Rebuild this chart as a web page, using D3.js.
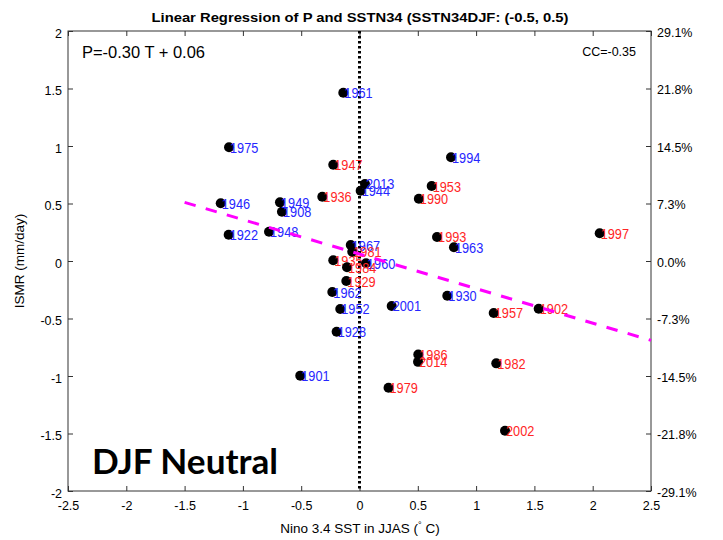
<!DOCTYPE html>
<html><head><meta charset="utf-8">
<script src="https://cdn.jsdelivr.net/npm/d3@7"></script>
<style>body{margin:0;background:#fff}svg{display:block}</style>
</head><body><svg id="c" width="723" height="540"></svg>
<script>
// ---- data ----
const years = [1901,1902,1908,1922,1928,1929,1930,1935,1936,1944,1946,1947,1948,1949,1952,1953,1957,1960,1961,1962,1963,1967,1975,1979,1981,1982,1984,1986,1990,1993,1994,1997,2001,2002,2013,2014];
const sst   = [-0.508,1.537,-0.665,-1.122,-0.196,-0.113,0.753,-0.225,-0.319,0.010,-1.190,-0.225,-0.776,-0.682,-0.165,0.619,1.151,0.056,-0.139,-0.233,0.810,-0.075,-1.119,0.249,-0.062,1.173,-0.107,0.504,0.509,0.665,0.785,2.060,0.276,1.248,0.047,0.502];
const ismr  = [-0.997,-0.415,0.429,0.229,-0.615,-0.174,-0.302,0.006,0.559,0.611,0.502,0.837,0.255,0.510,-0.417,0.652,-0.452,-0.020,1.463,-0.270,0.119,0.139,0.989,-1.102,0.081,-0.890,-0.055,-0.813,0.541,0.209,0.902,0.241,-0.391,-1.476,0.670,-0.877];
const group = ["B","R","B","B","B","R","B","R","R","B","B","R","B","B","B","R","R","B","B","B","B","B","B","R","R","R","R","R","R","R","B","R","B","R","B","R"];
const xTicks = [-2.5,-2,-1.5,-1,-0.5,0,0.5,1,1.5,2,2.5];
const yTicks = [-2,-1.5,-1,-0.5,0,0.5,1,1.5,2];
const rightTickLabels = ["-29.1%","-21.8%","-14.5%","-7.3%","0.0%","7.3%","14.5%","21.8%","29.1%"];
const slope = -0.30, intercept = 0.06, fitRange = [-1.5, 2.5];
const titleText = "Linear Regression of P and SSTN34 (SSTN34DJF: (-0.5, 0.5)";
const eqText = "P=-0.30 T + 0.06";
const ccText = "CC=-0.35";
const stampText = "DJF Neutral";

// ---- layout ----
const L = 68, R = 651, T = 31, B = 491;
const svg = d3.select("#c");
const x = d3.scaleLinear().domain([-2.5, 2.5]).range([L, R]);
const y = d3.scaleLinear().domain([-2, 2]).range([B, T]);
const font = "'Liberation Sans', Arial, sans-serif";
const axisCol = "#333";
const colors = {R: "#ff2626", B: "#2626ff"};

function styleAxis(g) {
  g.select(".domain").remove();
  g.selectAll("line").attr("stroke", axisCol).attr("stroke-width", 1);
  g.selectAll("text").attr("font-family", font).attr("font-size", 12.5).attr("fill", "#000");
}

// frame
svg.append("rect").attr("x", L).attr("y", T).attr("width", R - L).attr("height", B - T)
  .attr("fill", "none").attr("stroke", axisCol).attr("stroke-width", 1);

// axes
svg.append("g").attr("transform", `translate(0,${B})`)
  .call(d3.axisBottom(x).tickValues(xTicks).tickSize(-5).tickPadding(10).tickFormat(d => String(d)))
  .call(styleAxis);
svg.append("g").attr("transform", `translate(0,${T})`)
  .call(d3.axisTop(x).tickValues(xTicks).tickSize(-5).tickFormat(""))
  .call(styleAxis);
svg.append("g").attr("transform", `translate(${L},0)`)
  .call(d3.axisLeft(y).tickValues(yTicks).tickSize(-5).tickPadding(6).tickFormat(d => String(d)))
  .call(styleAxis)
  .selectAll("text").attr("dy", "0.5em");
svg.append("g").attr("transform", `translate(${R},0)`)
  .call(d3.axisRight(y).tickValues(yTicks).tickSize(-5).tickPadding(6).tickFormat((d, i) => rightTickLabels[i]))
  .call(styleAxis)
  .selectAll("text").attr("dy", "0.4em");

// zero dotted line
svg.append("line").attr("x1", x(0)).attr("x2", x(0)).attr("y1", T).attr("y2", B)
  .attr("stroke", "#000").attr("stroke-width", 3).attr("stroke-dasharray", "2.5,2.5");

// points + labels (year order)
const pts = years.map((yr, i) => ({yr, sx: sst[i], p: ismr[i], g: group[i]}));
pts.forEach(d => {
  svg.append("circle").attr("cx", x(d.sx)).attr("cy", y(d.p)).attr("r", 5).attr("fill", "#000");
  svg.append("text")
    .attr("transform", `translate(${x(d.sx) + 1},${y(d.p) + 5.5}) scale(0.88,1)`)
    .attr("font-family", font).attr("font-size", 14.5).attr("fill", colors[d.g])
    .text(d.yr);
});

// regression line
svg.append("line")
  .attr("x1", x(fitRange[0])).attr("y1", y(slope * fitRange[0] + intercept))
  .attr("x2", x(fitRange[1])).attr("y2", y(slope * fitRange[1] + intercept))
  .attr("stroke", "#ff00ff").attr("stroke-width", 3).attr("stroke-dasharray", "11.5,10.5");

// texts
svg.append("text").attr("x", 360).attr("y", 22).attr("text-anchor", "middle")
  .attr("font-family", font).attr("font-weight", "bold").attr("font-size", 13)
  .attr("textLength", 417).attr("lengthAdjust", "spacingAndGlyphs").text(titleText);
svg.append("text").attr("x", 82).attr("y", 58)
  .attr("font-family", font).attr("font-size", 16.5)
  .attr("textLength", 123).attr("lengthAdjust", "spacingAndGlyphs").text(eqText);
svg.append("text").attr("x", 636).attr("y", 56).attr("text-anchor", "end")
  .attr("font-family", font).attr("font-size", 12.5).text(ccText);
svg.append("text").attr("x", 92).attr("y", 474)
  .attr("font-family", "Lato, 'Open Sans', sans-serif").attr("font-weight", "bold").attr("font-size", 34)
  .attr("textLength", 186).attr("lengthAdjust", "spacingAndGlyphs").text(stampText);

// axis titles
const xt = svg.append("text").attr("x", 360).attr("y", 533).attr("text-anchor", "middle")
  .attr("font-family", font).attr("font-size", 13.5);
xt.append("tspan").text("Nino 3.4 SST in JJAS (");
xt.append("tspan").attr("font-size", 9).attr("dy", -5).text("°");
xt.append("tspan").attr("dy", 5).text(" C)");
svg.append("text").attr("transform", `translate(24,261) rotate(-90)`).attr("text-anchor", "middle")
  .attr("font-family", font).attr("font-size", 13.5).text("ISMR (mm/day)");
</script></body></html>
